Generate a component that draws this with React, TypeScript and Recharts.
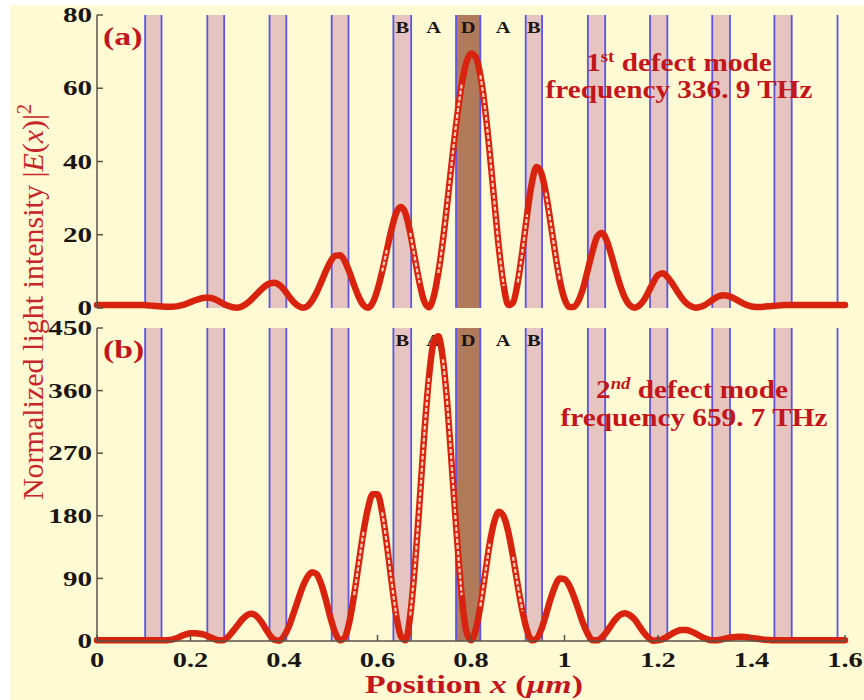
import React from 'react';
import { ComposedChart, Line, XAxis, YAxis, ReferenceArea, ReferenceLine } from 'recharts';

// one sample every 0.01 um across the structure
const positions = Array.from({ length: 161 }, (_, i) => i / 100);

// panel (a): 1st defect mode, |E(x)|^2
const intensityA = [
  0.8, 0.8, 0.8, 0.8, 0.8, 0.8, 0.8, 0.8, 0.8, 0.8,
  0.8, 0.7, 0.6, 0.5, 0.4, 0.35, 0.35, 0.45, 0.7, 1.1,
  1.6, 2.1, 2.5, 2.8, 2.8, 2.5, 1.9, 1.2, 0.6, 0.2,
  0.1, 0.4, 1.2, 2.3, 3.6, 4.9, 6.0, 6.7, 6.9, 6.3,
  5.0, 3.3, 1.7, 0.6, 0.1, 0.5, 2.0, 4.3, 7.2, 10.2,
  12.8, 14.3, 14.4, 12.8, 9.8, 6.2, 3.0, 0.8, 0.1, 1.5,
  5.0, 10.0, 15.8, 21.5, 26.0, 27.6, 25.8, 20.5, 13.5, 6.8,
  1.8, 0.2, 3.0, 9.5, 18.5, 29.5, 41.0, 52.0, 61.0, 67.0,
  69.5, 68.5, 63.5, 54.5, 42.5, 29.0, 16.0, 6.0, 0.8, 1.5,
  7.0, 15.5, 25.5, 34.0, 38.5, 37.0, 31.5, 23.5, 15.0, 7.5,
  2.5, 0.3, 0.3, 2.0, 5.5, 10.5, 15.5, 19.5, 20.5, 18.5,
  14.5, 10.0, 5.8, 2.6, 0.7, 0.1, 0.7, 2.2, 4.5, 7.0,
  9.0, 9.5, 8.5, 6.8, 4.8, 2.9, 1.4, 0.5, 0.1, 0.3,
  0.8, 1.6, 2.5, 3.2, 3.5, 3.3, 2.8, 2.1, 1.4, 0.8,
  0.4, 0.3, 0.3, 0.4, 0.5, 0.6, 0.7, 0.8, 0.8, 0.8,
  0.8, 0.8, 0.8, 0.8, 0.8, 0.8, 0.8, 0.8, 0.8, 0.8,
  0.8,
];

// panel (b): 2nd defect mode
const intensityB = [
  1, 1, 1, 1, 1, 1, 1, 1, 1, 1,
  1, 1, 1, 1, 1, 1.2, 2, 4, 7, 9.5,
  11, 11, 10.5, 9, 6, 3, 1, 1, 5.7, 13.5,
  22, 30.5, 36.6, 39, 36.6, 29, 18.5, 8, 1.5, 0.5,
  7, 20, 39, 59, 78, 92, 99, 96, 81, 58,
  32, 11, 1, 5, 28, 66, 112, 157, 192, 211,
  211, 185, 139, 86, 37, 7, 1, 37, 108, 199,
  297, 379, 429, 438, 405, 335, 241, 148, 66, 14,
  1, 16, 50, 95, 140, 172, 186, 179, 156, 121,
  80, 43, 15, 1, 3, 16, 37, 60, 79, 90,
  89, 80, 64, 45, 25, 10, 1, 1, 5, 13,
  23, 32, 38, 40, 37, 31, 21.5, 12, 4.5, 0.5,
  1, 2.6, 6.3, 10.5, 14, 15.8, 15.7, 14, 11, 7.2,
  3.8, 1.5, 1, 1.5, 3, 4.5, 5.5, 6, 6, 5.5,
  4.5, 3.5, 2.5, 1.8, 1.3, 1, 1, 1, 1, 1,
  1, 1, 1, 1, 1, 1, 1, 1, 1, 1,
  1,
];

// layer B (pink) and defect D (brown) boundaries in um
const bLayers: [number, number][] = [
  [0.103, 0.138], [0.236, 0.272], [0.369, 0.405], [0.502, 0.538], [0.634, 0.672],
  [0.917, 0.952], [1.05, 1.087], [1.183, 1.22], [1.316, 1.354], [1.449, 1.486],
];
const dLayer: [number, number] = [0.768, 0.82];
const structureEnd = 1.584;

const xTicks = [0, 0.2, 0.4, 0.6, 0.8, 1, 1.2, 1.4, 1.6];
const yTicksA = [0, 20, 40, 60, 80];
const yTicksB = [0, 90, 180, 270, 360, 450];

const PAPER = '#fefad3';
const PINK = '#e6c4bf';
const BROWN = '#b17a58';
const BLUE = '#5d54e2';
const RED = '#d8240f';
const TUBE = '#f7d3bd';
const TEXT_RED = '#c2161c';
const FRAME = '#5e5246';
const SERIF = "'Liberation Serif', 'Times New Roman', serif";

const XTick = ({ x, y, payload }: any) => (
  <text transform={`translate(${x},${y}) scale(1.42,1)`} textAnchor="middle" dy="0.71em"
    fontFamily={SERIF} fontWeight="bold" fontSize={20} fill="#1b1613">
    {payload.value}
  </text>
);

const YTick = ({ x, y, payload }: any) => (
  <text transform={`translate(${x},${y}) scale(1.42,1)`} textAnchor="end" dy="0.35em"
    fontFamily={SERIF} fontWeight="bold" fontSize={20.5} fill="#1b1613">
    {payload.value}
  </text>
);

const LayerLabel = ({ viewBox, text }: any) => (
  <text transform={`translate(${viewBox.x},${viewBox.y + 18}) scale(1.2,1)`} textAnchor="middle"
    fontFamily={SERIF} fontWeight="bold" fontSize={17} fill="#1b1613">
    {text}
  </text>
);

const layerNames = [
  { name: 'B', at: (bLayers[4][0] + bLayers[4][1]) / 2 },
  { name: 'A', at: (bLayers[4][1] + dLayer[0]) / 2 },
  { name: 'D', at: (dLayer[0] + dLayer[1]) / 2 },
  { name: 'A', at: (dLayer[1] + bLayers[5][0]) / 2 },
  { name: 'B', at: (bLayers[5][0] + bLayers[5][1]) / 2 },
];

interface PanelProps {
  values: number[];
  yMax: number;
  yTicks: number[];
  height: number;
  top: number;
  bottom: number;
  axisH: number;
  showXLabels: boolean;
}

const Panel = ({ values, yMax, yTicks, height, top, bottom, axisH, showXLabels }: PanelProps) => {
  const perUnit = (height - top - bottom - axisH) / yMax;
  // where the curve is steep the markers spread apart and show their pale centres
  const steep = values.map((v, i) => i < values.length - 1 && Math.abs(values[i + 1] - v) * perUnit > 18);
  const rows = values.map((v, i) => ({
    x: positions[i],
    v,
    inner: i > 0 && steep[i - 1] && steep[i] ? v : null,
  }));
  const edges = [...bLayers.flat(), dLayer[0], dLayer[1], structureEnd];
  const axisStyle = { stroke: FRAME, strokeWidth: 1.5 };

  return (
    <ComposedChart width={864} height={height} data={rows} margin={{ top, right: 19, bottom, left: 37 }}>
      <XAxis xAxisId="b" dataKey="x" type="number" domain={[0, 1.6]} ticks={xTicks} interval={0}
        height={axisH} tickSize={-6} tickMargin={18} axisLine={axisStyle} tickLine={axisStyle}
        tick={showXLabels ? <XTick /> : false} />
      <XAxis xAxisId="t" orientation="top" type="number" domain={[0, 1.6]} ticks={xTicks} interval={0}
        height={0} tickSize={-6} axisLine={axisStyle} tickLine={axisStyle} tickFormatter={() => ''} />
      <YAxis yAxisId="l" type="number" domain={[0, yMax]} ticks={yTicks} interval={0} width={60}
        tickSize={-6} tickMargin={11} axisLine={axisStyle} tickLine={axisStyle} tick={<YTick />} />
      <YAxis yAxisId="r" orientation="right" type="number" domain={[0, yMax]} ticks={yTicks} interval={0}
        width={0} tickSize={-6} axisLine={axisStyle} tickLine={axisStyle} tickFormatter={() => ''} />

      {bLayers.map(([a, b], i) => (
        <ReferenceArea key={`b${i}`} xAxisId="b" yAxisId="l" x1={a} x2={b} fill={PINK} fillOpacity={1} stroke="none" />
      ))}
      <ReferenceArea xAxisId="b" yAxisId="l" x1={dLayer[0]} x2={dLayer[1]} fill={BROWN} fillOpacity={1} stroke="none" />
      {edges.map((e, i) => (
        <ReferenceLine key={`e${i}`} xAxisId="b" yAxisId="l" x={e} stroke={BLUE} strokeWidth={1.8} />
      ))}
      {layerNames.map((l, i) => (
        <ReferenceLine key={`n${i}`} xAxisId="b" yAxisId="l" x={l.at} stroke="none"
          label={<LayerLabel text={l.name} />} />
      ))}

      <Line xAxisId="b" yAxisId="l" dataKey="v" type="monotone" stroke={RED} strokeWidth={6.5}
        strokeLinejoin="round" strokeLinecap="round" dot={false} isAnimationActive={false} />
      <Line xAxisId="b" yAxisId="l" dataKey="inner" type="monotone" stroke={TUBE} strokeWidth={2.2}
        strokeDasharray="4 2" dot={false} connectNulls={false} isAnimationActive={false} />
    </ComposedChart>
  );
};

export default function App() {
  return (
    <div style={{ position: 'absolute', left: 0, top: 0, width: 864, height: 700, background: '#ffffff', overflow: 'hidden' }}>
      <div style={{ position: 'absolute', left: 10, top: 5, width: 854, height: 695, background: PAPER }} />
      <div style={{ position: 'absolute', left: 0, top: 0 }}>
        <Panel values={intensityA} yMax={80} yTicks={yTicksA} height={318} top={15} bottom={10} axisH={0} showXLabels={false} />
      </div>
      <div style={{ position: 'absolute', left: 0, top: 314 }}>
        <Panel values={intensityB} yMax={450} yTicks={yTicksB} height={386} top={14} bottom={29} axisH={30} showXLabels />
      </div>
      <svg width={864} height={700} style={{ position: 'absolute', left: 0, top: 0, pointerEvents: 'none' }}>
        <text transform="translate(43,302) rotate(-90)" textAnchor="middle" fontFamily={SERIF} fontSize={30} fill="#c6262c">
          Normalized light intensity |<tspan fontStyle="italic">E</tspan>(<tspan fontStyle="italic">x</tspan>)|
          <tspan dy={-12} fontSize={20}>2</tspan>
        </text>
        <text transform="translate(474,693) scale(1.3,1)" textAnchor="middle" fontFamily={SERIF} fontWeight="bold" fontSize={26} fill={TEXT_RED}>
          Position <tspan fontStyle="italic">x</tspan> (<tspan fontStyle="italic">μm</tspan>)
        </text>

        <text transform="translate(103,45) scale(1.3,1)" fontFamily={SERIF} fontWeight="bold" fontSize={26} fill={TEXT_RED}>(a)</text>
        <text transform="translate(103,358) scale(1.3,1)" fontFamily={SERIF} fontWeight="bold" fontSize={26} fill={TEXT_RED}>(b)</text>

        <text transform="translate(679,71) scale(1.17,1)" textAnchor="middle" fontFamily={SERIF} fontWeight="bold" fontSize={25} fill={TEXT_RED}>
          1<tspan dy={-9} fontSize={16}>st</tspan><tspan dy={9}> defect mode</tspan>
        </text>
        <text transform="translate(679,98) scale(1.17,1)" textAnchor="middle" fontFamily={SERIF} fontWeight="bold" fontSize={25} fill={TEXT_RED}>
          frequency 336. 9 THz
        </text>
        <text transform="translate(692,398) scale(1.17,1)" textAnchor="middle" fontFamily={SERIF} fontWeight="bold" fontSize={25} fill={TEXT_RED}>
          2<tspan dy={-9} fontSize={16} fontStyle="italic">nd</tspan><tspan dy={9}> defect mode</tspan>
        </text>
        <text transform="translate(694,426) scale(1.17,1)" textAnchor="middle" fontFamily={SERIF} fontWeight="bold" fontSize={25} fill={TEXT_RED}>
          frequency 659. 7 THz
        </text>
      </svg>
    </div>
  );
}
